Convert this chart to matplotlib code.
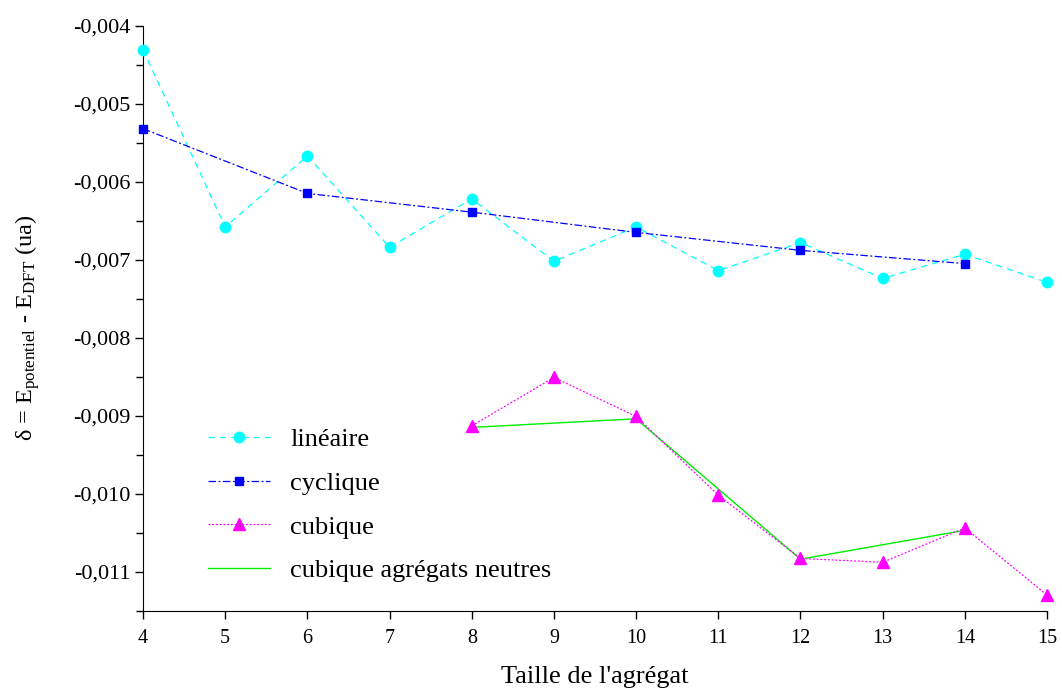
import matplotlib
matplotlib.use('Agg')
import matplotlib.pyplot as plt
from matplotlib.ticker import MultipleLocator, FuncFormatter
from matplotlib import rcParams

# Times-like look
rcParams['font.family'] = 'Liberation Serif'
rcParams['mathtext.fontset'] = 'custom'
rcParams['mathtext.rm'] = 'Liberation Serif'
rcParams['mathtext.it'] = 'Liberation Serif:italic'

# Data
x_lin = [4, 5, 6, 7, 8, 9, 10, 11, 12, 13, 14, 15]
y_lin = [-0.00431, -0.00658, -0.00567, -0.00684, -0.00622, -0.00702,
         -0.00658, -0.00714, -0.00678, -0.00724, -0.00693, -0.00729]

x_cyc = [4, 6, 8, 10, 12, 14]
y_cyc = [-0.00532, -0.00615, -0.00639, -0.00665, -0.00688, -0.00705]

x_cub = [8, 9, 10, 11, 12, 13, 14, 15]
y_cub = [-0.00913, -0.00851, -0.00901, -0.01002, -0.01083, -0.01088,
         -0.01044, -0.01130]

x_neu = [8, 10, 12, 14]
y_neu = [-0.00915, -0.00904, -0.01084, -0.01047]

labels = ['linéaire', 'cyclique', 'cubique', 'cubique agrégats neutres']

fig = plt.figure(figsize=(10.62, 6.88), dpi=100)
ax = fig.add_axes([0.1347, 0.1124, 0.8512, 0.8502])

ax.plot(x_lin, y_lin, color='#00FFFF', linestyle=(0, (5, 4)), linewidth=0.9,
        marker='o', markersize=7.5, label=labels[0], clip_on=False, zorder=3)
ax.plot(x_cyc, y_cyc, color='#0000FF', linestyle=(0, (6, 2, 1.5, 2)), linewidth=0.9,
        marker='s', markersize=6, label=labels[1], clip_on=False, zorder=4)
ax.plot(x_cub, y_cub, color='#FF00FF', linestyle=(0, (1.5, 1.5)), linewidth=0.9,
        marker='^', markersize=8, label=labels[2], clip_on=False, zorder=3)
ax.plot(x_neu, y_neu, color='#00EE00', linestyle='-', linewidth=1.0,
        label=labels[3], clip_on=False, zorder=2)

ax.set_xlim(4, 15)
ax.set_ylim(-0.0115, -0.004)
ax.xaxis.set_major_locator(MultipleLocator(1))
ax.yaxis.set_major_locator(MultipleLocator(0.001))
ax.yaxis.set_minor_locator(MultipleLocator(0.0005))
ax.yaxis.set_major_formatter(FuncFormatter(lambda v, p: f"{v:.3f}".replace('.', ',')))

ax.spines['top'].set_visible(False)
ax.spines['right'].set_visible(False)
ax.tick_params(axis='both', which='major', direction='out', length=6, width=1)
ax.tick_params(axis='y', which='minor', direction='out', length=5, width=1)
ax.tick_params(axis='x', pad=7, labelsize=14.5)
ax.tick_params(axis='y', pad=3, labelsize=16)

ax.set_xlabel("Taille de l'agrégat", fontsize=19, va='top')
ax.xaxis.set_label_coords(0.5, -0.095)
ax.set_ylabel(r'δ = E$_{\mathrm{potentiel}}$ - E$_{\mathrm{DFT}}$ (ua)',
              fontsize=17.5)
ax.yaxis.set_label_coords(-0.112, 0.483)

ax.legend(loc='upper left', bbox_to_anchor=(0.072, 0.313), frameon=False,
          fontsize=19, handlelength=2.35, handletextpad=0.76, labelspacing=0.77,
          borderpad=0, borderaxespad=0)

plt.savefig('out.png', dpi=100)
